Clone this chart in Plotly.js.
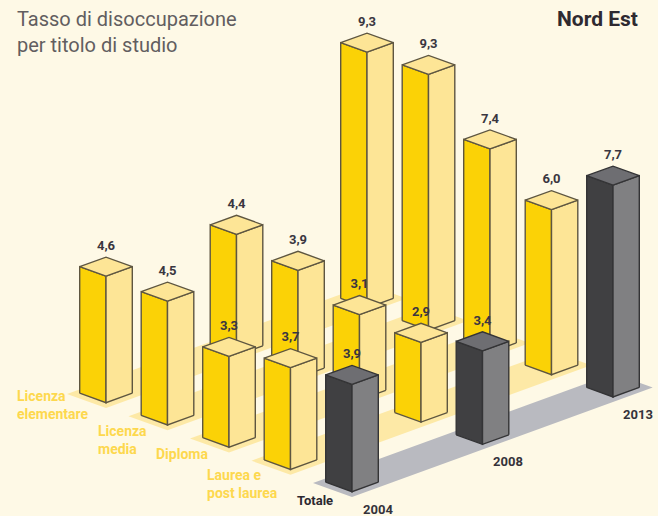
<!DOCTYPE html>
<html>
<head>
<meta charset="utf-8">
<script src="https://cdn.plot.ly/plotly-3.0.1.min.js"></script>
<style>html,body{margin:0;padding:0;background:#FEF9E6;overflow:hidden}#chart{width:658px;height:516px}</style>
</head>
<body>
<div id="chart"></div>
<script>
// ---- data ----
var categories = ['Licenza<br>elementare', 'Licenza<br>media', 'Diploma', 'Laurea e<br>post laurea', 'Totale'];
var years = ['2004', '2008', '2013'];
var values2004 = [4.6, 4.5, 3.3, 3.7, 3.9];
var values2008 = [4.4, 3.9, 3.1, 2.9, 3.4];
var values2013 = [9.3, 9.3, 7.4, 6.0, 7.7];
var seriesValues = [values2004, values2008, values2013];

// ---- oblique projection of (row, year, value) into the plot's axis units ----
var FONT = 'Roboto, "Open Sans", sans-serif';
var ORIGIN = [106, 402.7], ROW_STEP = [61.5, 22.25], YEAR_STEP = [130.5, -47.4];
var UNIT = 27.5, HALF = 26.3, SLANT = 9.5;
function base(r, y) {
  return [ORIGIN[0] + r * ROW_STEP[0] + y * YEAR_STEP[0],
          ORIGIN[1] + r * ROW_STEP[1] + y * YEAR_STEP[1]];
}
var palette = {
  bar:   {front: '#FBD206', side: '#FDE596', top: '#FDE596', line: '#5E5640'},
  total: {front: '#404042', side: '#808082', top: '#6E6E72', line: '#343436'}
};
var traces = [];
function poly(pts, fill, line, width) {
  traces.push({
    type: 'scatter', mode: width ? 'lines' : 'none', fill: 'toself', fillcolor: fill,
    x: pts.map(function (p) { return p[0]; }).concat(pts[0][0]),
    y: pts.map(function (p) { return p[1]; }).concat(pts[0][1]),
    line: {color: line || fill, width: width || 0, shape: 'linear'},
    hoverinfo: 'skip', showlegend: false
  });
}
// floor strips
categories.forEach(function (c, r) {
  var a = base(r, 0); a = [a[0], a[1] + 5.3];
  var b = [a[0] + 300.7, a[1] - 109.5];
  var col = r === 4 ? '#B9BAC0' : '#FDE9A6';
  poly([a, b, [b[0] - 39, b[1] - 14], [a[0] - 39, a[1] - 14]], col);
});
// bars, back to front
for (var y = years.length - 1; y >= 0; y--) {
  for (var r = 0; r < categories.length; r++) {
    var v = seriesValues[y][r], p = base(r, y), h = v * UNIT;
    var k = r === 4 ? palette.total : palette.bar;
    var fx = p[0], fy = p[1], L = fx - HALF, R = fx + HALF;
    poly([[L, fy - SLANT], [fx, fy], [fx, fy - h], [L, fy - SLANT - h]], k.front, k.line, 1.4);
    poly([[R, fy - SLANT], [fx, fy], [fx, fy - h], [R, fy - SLANT - h]], k.side, k.line, 1.4);
    poly([[fx, fy - h], [L, fy - SLANT - h], [fx, fy - 2 * SLANT - h], [R, fy - SLANT - h]], k.top, k.line, 1.4);
  }
}
// value labels above everything
var lx = [], ly = [], lt = [];
seriesValues.forEach(function (vals, y) {
  vals.forEach(function (v, r) {
    var p = base(r, y);
    lx.push(p[0]);
    ly.push(p[1] - v * UNIT - 2 * SLANT - 10.5);
    lt.push(v.toFixed(1).replace('.', ','));
  });
});
traces.push({
  type: 'scatter', mode: 'text', x: lx, y: ly, text: lt, textposition: 'middle center',
  textfont: {family: FONT, size: 13, color: '#3A3640', weight: 700},
  hoverinfo: 'skip', showlegend: false
});

function note(text, x, y, color, size, weight, anchor) {
  return {text: text, x: x, y: y, xref: 'x', yref: 'y', xanchor: anchor || 'left', yanchor: 'middle',
          align: 'left', showarrow: false, borderpad: 0,
          font: {family: FONT, size: size, color: color, weight: weight}};
}
var rowLabelX = [16, 97, 155, 206, 296];
var rowLabelY = [405, 439.5, 454, 483.5, 500];
var yearLabelX = [378, 508, 638];
var yearLabelY = [509, 461, 414];
var annotations = [];
categories.forEach(function (c, r) {
  annotations.push(note(c, rowLabelX[r], rowLabelY[r], r === 4 ? '#2B2830' : '#FDD84E', r === 4 ? 13 : 14, 700));
});
years.forEach(function (t, i) {
  annotations.push(note(t, yearLabelX[i], yearLabelY[i], '#35323A', 13, 700, 'center'));
});
annotations.push(note('Nord Est', 639, 19, '#2E2A30', 21, 700, 'right'));

var layout = {
  width: 658, height: 516,
  margin: {l: 0, r: 0, t: 0, b: 0},
  paper_bgcolor: '#FEF9E6', plot_bgcolor: '#FEF9E6',
  title: {text: 'Tasso di disoccupazione<br>per titolo di studio', x: 17 / 658, xanchor: 'left',
          y: 1 - 26 / 516, yanchor: 'top', xref: 'paper', yref: 'paper',
          font: {family: FONT, size: 20, color: '#625E60'}},
  xaxis: {range: [0, 658], visible: false, fixedrange: true},
  yaxis: {range: [516, 0], visible: false, fixedrange: true},
  showlegend: false,
  annotations: annotations
};
Plotly.newPlot('chart', traces, layout, {displayModeBar: false, staticPlot: true});
</script>
</body>
</html>
